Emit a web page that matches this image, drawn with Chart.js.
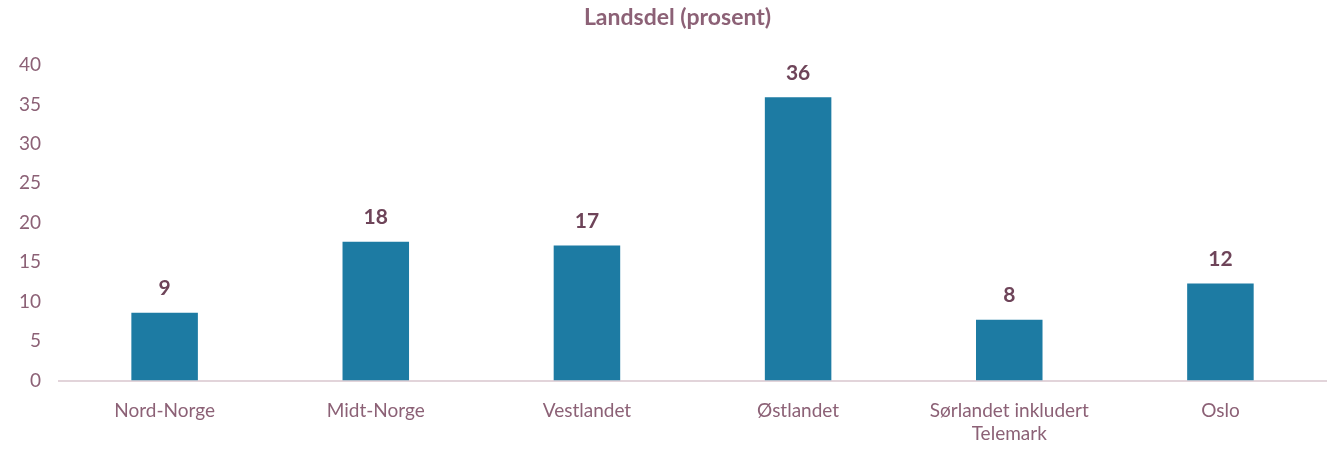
<!DOCTYPE html>
<html>
<head>
<meta charset="utf-8">
<script src="https://cdn.jsdelivr.net/npm/chart.js@4"></script>
<style>
  html, body { margin: 0; padding: 0; background: #fff; }
  #wrap { width: 1337px; height: 449px; }
</style>
</head>
<body>
<div id="wrap"><canvas id="landChart" width="1337" height="449"></canvas></div>
<script>
const chartTitle = "Landsdel (prosent)";
const categories = ["Nord-Norge", "Midt-Norge", "Vestlandet", "Østlandet", ["Sørlandet inkludert", "Telemark"], "Oslo"];
const values = [8.6, 17.6, 17.1, 35.9, 7.7, 12.3];
const valueLabels = ["9", "18", "17", "36", "8", "12"];
const yTicks = [0, 5, 10, 15, 20, 25, 30, 35, 40];

const textColor = "#8c6176";
const labelColor = "#6e4459";
const barColor = "#1d7ba3";
const axisColor = "#e2d4da";

// value labels above the bars + title centred on the whole canvas
const valueLabelPlugin = {
  id: "valueLabels",
  afterDatasetsDraw(chart) {
    const ctx = chart.ctx;
    const meta = chart.getDatasetMeta(0);
    ctx.save();
    ctx.font = "bold 21px Lato";
    ctx.fillStyle = labelColor;
    ctx.textAlign = "center";
    ctx.textBaseline = "bottom";
    meta.data.forEach((bar, i) => {
      ctx.fillText(valueLabels[i], bar.x, bar.y - 14);
    });
    ctx.font = "bold 23px Lato";
    ctx.fillStyle = textColor;
    ctx.textBaseline = "middle";
    ctx.fillText(chartTitle, chart.width / 2 + 9, 18);
    ctx.restore();
  },
};

new Chart(document.getElementById("landChart"), {
  type: "bar",
  data: {
    labels: categories,
    datasets: [
      {
        data: values,
        backgroundColor: barColor,
        categoryPercentage: 1,
        barPercentage: 0.315,
      },
    ],
  },
  options: {
    responsive: false,
    animation: false,
    layout: { padding: { left: 1, right: 11, top: 65, bottom: -15 } },
    plugins: {
      legend: { display: false },
      tooltip: { enabled: false },
      title: { display: false },
    },
    scales: {
      x: {
        grid: { display: false, drawTicks: false },
        border: { color: axisColor, width: 2 },
        ticks: {
          color: textColor,
          font: { family: "Lato", size: 19, lineHeight: 1.25 },
          padding: 18,
          maxRotation: 0,
        },
      },
      y: {
        min: 0,
        max: 40,
        afterBuildTicks: (axis) => {
          axis.ticks = yTicks.map((v) => ({ value: v }));
        },
        grid: { display: false, drawTicks: false },
        border: { display: false },
        ticks: {
          color: textColor,
          font: { family: "Lato", size: 19 },
          padding: 18,
        },
      },
    },
  },
  plugins: [valueLabelPlugin],
});
</script>
</body>
</html>
